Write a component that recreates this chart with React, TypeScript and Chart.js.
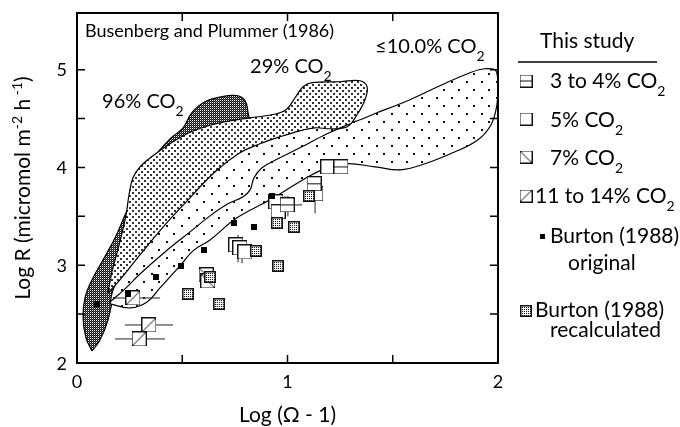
import React, { useEffect, useRef } from 'react';
import { Chart, registerables } from 'chart.js';

Chart.register(...registerables);

const FONT = 'Lato, "Noto Sans", sans-serif';

// ---------- axes ----------
const X_MIN = 0;
const X_MAX = 2;
const Y_MIN = 2;
const Y_MAX = 5.58;
const X_TICK_MARKS = [0.5, 1, 1.5];
const Y_TICK_MARKS = [2.5, 3, 3.5, 4, 4.5, 5];
const X_TICK_LABELS = [0, 1, 2];
const Y_TICK_LABELS = [2, 3, 4, 5];

// ---------- Busenberg & Plummer (1986) envelopes: [log(Ω-1), log R] ----------
const REGION_96 = [
  [0.071, 2.123], [0.043, 2.256], [0.029, 2.461], [0.038, 2.666], [0.071, 2.850],
  [0.124, 3.055], [0.181, 3.280], [0.233, 3.536], [0.285, 3.751], [0.328, 3.956],
  [0.371, 4.119], [0.442, 4.293], [0.504, 4.406], [0.546, 4.560], [0.608, 4.672],
  [0.689, 4.724], [0.760, 4.734], [0.798, 4.683], [0.812, 4.570], [0.817, 4.437],
  [0.774, 4.283], [0.656, 4.079], [0.489, 3.823], [0.347, 3.515], [0.252, 3.208],
  [0.195, 2.932], [0.176, 2.727], [0.147, 2.440], [0.109, 2.235],
];
const REGION_29 = [
  [0.147, 2.717], [0.166, 2.932], [0.200, 3.208], [0.233, 3.515], [0.247, 3.720],
  [0.266, 3.894], [0.299, 4.007], [0.361, 4.119], [0.442, 4.242], [0.523, 4.345],
  [0.608, 4.416], [0.703, 4.468], [0.822, 4.508], [0.926, 4.539], [0.993, 4.590],
  [1.036, 4.713], [1.074, 4.826], [1.116, 4.867], [1.249, 4.877], [1.344, 4.887],
  [1.378, 4.826], [1.368, 4.693], [1.330, 4.539], [1.283, 4.416], [1.202, 4.396],
  [1.131, 4.406], [1.059, 4.375], [0.964, 4.314], [0.869, 4.242], [0.774, 4.150],
  [0.656, 3.956], [0.537, 3.689], [0.418, 3.413], [0.299, 3.106], [0.204, 2.850],
];
const REGION_10 = [
  [0.157, 2.604], [0.252, 2.563], [0.333, 2.625], [0.394, 2.768], [0.489, 2.993],
  [0.551, 3.147], [0.632, 3.259], [0.760, 3.485], [0.917, 3.669], [1.074, 3.874],
  [1.164, 3.976], [1.273, 4.038], [1.416, 4.007], [1.534, 3.976], [1.653, 4.038],
  [1.796, 4.160], [1.905, 4.283], [1.967, 4.437], [1.995, 4.642], [2.000, 4.846],
  [1.990, 4.990], [1.938, 5.010], [1.867, 4.969], [1.724, 4.836], [1.582, 4.693],
  [1.425, 4.560], [1.297, 4.457], [1.202, 4.468], [1.059, 4.447], [0.917, 4.406],
  [0.774, 4.283], [0.608, 4.079], [0.442, 3.720], [0.323, 3.362], [0.228, 3.003],
  [0.171, 2.747],
];
const INNER_LINE_10 = [
  [0.157, 2.625], [0.228, 2.758], [0.299, 2.911], [0.418, 3.136], [0.537, 3.341],
  [0.632, 3.505], [0.717, 3.628], [0.789, 3.700], [0.822, 3.771], [0.841, 3.894],
  [0.879, 3.997], [0.964, 4.099], [1.059, 4.201], [1.188, 4.345], [1.297, 4.447],
];

// ---------- points ----------
const CO2_3_4 = [[1.254, 4.006], [1.126, 3.833], [0.998, 3.617]];
const CO2_5 = [[1.192, 4.006], [1.135, 3.730], [0.945, 3.648], [0.955, 3.546], [0.755, 3.208], [0.774, 3.177], [0.798, 3.136]];
const CO2_7 = [[0.613, 2.901], [0.622, 2.839]];
const CO2_11_14 = [[0.266, 2.665], [0.342, 2.389], [0.295, 2.246]];
const BURTON_ORIGINAL = [[0.095, 2.604], [0.242, 2.706], [0.375, 2.880], [0.494, 2.993], [0.603, 3.157], [0.746, 3.433], [0.841, 3.392], [0.926, 3.709]];
const BURTON_RECALC = [[1.102, 3.709], [0.950, 3.433], [1.031, 3.392], [0.850, 3.146], [0.632, 2.880], [0.527, 2.706], [0.675, 2.604], [0.955, 2.993]];

// error bars
const ERR_H = [[0.171, 0.394, 2.665], [0.228, 0.456, 2.389], [0.181, 0.418, 2.246], [0.917, 1.069, 3.617]]; // x0, x1, y
const ERR_V = [[0.765, 3.03, 3.31], [0.784, 3.02, 3.29], [0.988, 3.47, 3.71], [1.002, 3.50, 3.71], [1.131, 3.53, 3.70]]; // x, y0, y1

// ---------- text ----------
const LEGEND_TITLE = 'This study';
const LEGEND_LABELS = ['3 to 4% ', '5% ', '7% ', '11 to 14% '];
const BURTON_LABEL = 'Burton (1988)';
const BURTON_SUB = ['original', 'recalculated'];
const SOURCE_LABEL = 'Busenberg and Plummer (1986)';
const REGION_LABELS = ['96% ', '29% ', '\u226410.0% '];
const X_TITLE = 'Log (\u03A9 - 1)';

type Part = [string, number, number];

function drawParts(ctx: CanvasRenderingContext2D, parts: Part[], x: number, y: number, align: 'left' | 'center' | 'right' = 'left') {
  let w = 0;
  for (const [t, s] of parts) { ctx.font = `${s}px ${FONT}`; w += ctx.measureText(t).width; }
  let cx = align === 'center' ? x - w / 2 : align === 'right' ? x - w : x;
  ctx.textAlign = 'left';
  ctx.textBaseline = 'alphabetic';
  ctx.fillStyle = '#000';
  for (const [t, s, dy] of parts) {
    ctx.font = `${s}px ${FONT}`;
    ctx.fillText(t, cx, y + dy);
    cx += ctx.measureText(t).width;
  }
}
const co2 = (prefix: string, size: number, sub: number, dy: number): Part[] => [[prefix + 'CO', size, 0], ['2', sub, dy]];

function makeMarker(kind: string, size: number): HTMLCanvasElement {
  const c = document.createElement('canvas');
  c.width = size; c.height = size;
  const g = c.getContext('2d')!;
  if (kind === 'solid') { g.fillStyle = '#000'; g.fillRect(0, 0, size, size); return c; }
  g.fillStyle = '#fff'; g.fillRect(0, 0, size, size);
  g.strokeStyle = '#111'; g.lineWidth = 1;
  if (kind === 'dots') {
    g.fillStyle = '#000';
    for (let x = 2; x < size - 1; x += 2) for (let y = 2; y < size - 1; y += 2) g.fillRect(x, y, 1, 1);
    g.lineWidth = 1.5;
    g.strokeRect(0.75, 0.75, size - 1.5, size - 1.5);
    return c;
  }
  g.strokeRect(0.5, 0.5, size - 1, size - 1);
  g.beginPath();
  const m = Math.floor(size / 2) + 0.5;
  if (kind === 'h') { g.moveTo(0, m); g.lineTo(size, m); }
  if (kind === 'd1') { g.moveTo(0.5, 0.5); g.lineTo(size - 0.5, size - 0.5); }
  if (kind === 'd2') { g.moveTo(0.5, size - 0.5); g.lineTo(size - 0.5, 0.5); }
  g.stroke();
  return c;
}

function tile(w: number, h: number, draw: (g: CanvasRenderingContext2D) => void) {
  const c = document.createElement('canvas');
  c.width = w; c.height = h;
  draw(c.getContext('2d')!);
  return c;
}

const pts = (a: number[][]) => a.map(([x, y]) => ({ x, y }));
const ring = (a: number[][]) => pts([...a, a[0]]);

export default function App() {
  const ref = useRef<HTMLCanvasElement>(null);
  useEffect(() => {
    document.body.style.margin = '0';
    const canvas = ref.current!;
    const ctx = canvas.getContext('2d')!;

    const pat96 = ctx.createPattern(tile(2, 2, g => {
      g.fillStyle = '#111'; g.fillRect(0, 0, 2, 2);
      g.fillStyle = '#fff'; g.fillRect(0, 0, 1, 1);
      g.fillStyle = '#555'; g.fillRect(1, 1, 1, 1);
    }), 'repeat')!;
    const pat29 = ctx.createPattern(tile(6, 6, g => {
      g.fillStyle = '#fff'; g.fillRect(0, 0, 6, 6);
      g.fillStyle = '#333'; g.fillRect(0, 0, 2, 2); g.fillRect(3, 3, 2, 2);
    }), 'repeat')!;
    const pat10 = ctx.createPattern(tile(15, 16, g => {
      g.fillStyle = '#fff'; g.fillRect(0, 0, 15, 16);
      g.fillStyle = '#111'; g.fillRect(1, 1, 2, 2); g.fillRect(8, 9, 2, 2);
    }), 'repeat')!;

    const mk = {
      h: makeMarker('h', 15), sq: makeMarker('sq', 15), d1: makeMarker('d1', 15), d2: makeMarker('d2', 15),
      solid: makeMarker('solid', 6), dots: makeMarker('dots', 12),
    };
    const lg = {
      h: makeMarker('h', 13), sq: makeMarker('sq', 13), d1: makeMarker('d1', 13), d2: makeMarker('d2', 13),
      solid: makeMarker('solid', 5), dots: makeMarker('dots', 12),
    };

    const region = (data: number[][], bg: any, order: number) => ({
      data: ring(data), showLine: true, fill: 'shape', backgroundColor: bg, borderColor: '#000',
      borderWidth: 1.2, pointRadius: 0, tension: 0.4, order,
    });
    const markers = (data: number[][], style: HTMLCanvasElement, order: number) => ({
      data: pts(data), showLine: false, pointStyle: style, pointRadius: 7, order,
    });
    const seg = (a: number[][]) => ({
      data: pts(a), showLine: true, fill: false, borderColor: '#222', borderWidth: 1, pointRadius: 0, order: 6,
    });

    const datasets: any[] = [
      markers(BURTON_ORIGINAL, mk.solid, 0),
      markers(BURTON_RECALC, mk.dots, 1),
      markers(CO2_11_14, mk.d2, 2),
      markers(CO2_7, mk.d1, 3),
      markers(CO2_3_4, mk.h, 4),
      markers(CO2_5, mk.sq, 5),
      ...ERR_H.map(([x0, x1, y]) => seg([[x0, y], [x1, y]])),
      ...ERR_V.map(([x, y0, y1]) => seg([[x, y0], [x, y1]])),
      { data: pts(INNER_LINE_10), showLine: true, fill: false, borderColor: '#000', borderWidth: 1.2, pointRadius: 0, tension: 0.4, order: 7 },
      region(REGION_29, pat29, 8),
      region(REGION_10, pat10, 9),
      region(REGION_96, pat96, 10),
    ];

    const decor = {
      id: 'decor',
      afterDatasetsDraw(chart: any) {
        const c = chart.ctx as CanvasRenderingContext2D;
        const { left, right, top, bottom } = chart.chartArea;
        const xs = chart.scales.x, ys = chart.scales.y;
        c.save();
        c.strokeStyle = '#000';
        c.lineWidth = 1.5;
        c.beginPath();
        for (const v of X_TICK_MARKS) {
          const p = xs.getPixelForValue(v);
          c.moveTo(p, bottom); c.lineTo(p, bottom - 8);
          c.moveTo(p, top); c.lineTo(p, top + 8);
        }
        for (const v of Y_TICK_MARKS) {
          const p = ys.getPixelForValue(v);
          c.moveTo(left, p); c.lineTo(left + 8, p);
          c.moveTo(right, p); c.lineTo(right - 8, p);
        }
        c.stroke();
        c.lineWidth = 2;
        c.strokeRect(left, top, right - left, bottom - top);

        // tick labels
        for (const v of X_TICK_LABELS) drawParts(c, [[String(v), 18, 0]], xs.getPixelForValue(v), bottom + 25, 'center');
        for (const v of Y_TICK_LABELS) drawParts(c, [[String(v), 18, 0]], left - 10, ys.getPixelForValue(v) + 6.5, 'right');

        // labels inside the plot
        const at = (x: number, y: number) => [xs.getPixelForValue(x), ys.getPixelForValue(y)];
        let [px, py] = at(0.038, 5.338);
        drawParts(c, [[SOURCE_LABEL, 18, 0]], px, py);
        [px, py] = at(0.119, 4.611);
        drawParts(c, co2(REGION_LABELS[0], 20, 14, 8), px, py);
        [px, py] = at(0.822, 4.969);
        drawParts(c, co2(REGION_LABELS[1], 20, 14, 8), px, py);
        [px, py] = at(1.416, 5.174);
        drawParts(c, co2(REGION_LABELS[2], 20, 14, 8), px, py);
        c.restore();
      },
      afterDraw(chart: any) {
        const c = chart.ctx as CanvasRenderingContext2D;
        const { left, right } = chart.chartArea;
        c.save();
        // axis titles
        drawParts(c, [[X_TITLE, 21, 0]], (left + right) / 2, 422, 'center');
        c.translate(30, 188);
        c.rotate(-Math.PI / 2);
        drawParts(c, [['Log R (micromol m', 21, 0], ['-2', 14, -8], [' h', 21, 0], [' -1', 14, -8], [')', 21, 0]], 0, 0, 'center');
        c.setTransform(1, 0, 0, 1, 0, 0);

        // legend
        drawParts(c, [[LEGEND_TITLE, 21, 0]], 540, 48);
        c.strokeStyle = '#000'; c.lineWidth = 1.5;
        c.beginPath(); c.moveTo(518, 62); c.lineTo(657, 62); c.stroke();
        const icons = [lg.h, lg.sq, lg.d1, lg.d2];
        const iconY = [81, 119, 157, 196];
        const textY = [88, 127, 165, 203];
        const textX = [550, 550, 550, 535];
        for (let i = 0; i < 4; i++) {
          const im = icons[i];
          c.drawImage(im, 526 - im.width / 2, iconY[i] - im.height / 2);
          drawParts(c, co2(LEGEND_LABELS[i], 21, 14, 8), textX[i], textY[i]);
        }
        c.drawImage(lg.solid, 540, 234);
        drawParts(c, [[BURTON_LABEL, 21, 0]], 550, 243);
        drawParts(c, [[BURTON_SUB[0], 21, 0]], 568, 270);
        c.drawImage(lg.dots, 520, 305);
        drawParts(c, [[BURTON_LABEL, 21, 0]], 535, 317);
        drawParts(c, [[BURTON_SUB[1], 21, 0]], 550, 337);
        c.restore();
      },
    };

    const chart = new Chart(canvas, {
      type: 'scatter',
      data: { datasets },
      options: {
        animation: false,
        responsive: false,
        devicePixelRatio: 1,
        layout: { padding: { top: 13, right: 182, left: 0, bottom: 0 } },
        plugins: { legend: { display: false }, tooltip: { enabled: false } },
        scales: {
          x: {
            type: 'linear', min: X_MIN, max: X_MAX,
            grid: { display: false, drawTicks: false }, border: { display: false },
            ticks: { display: false, stepSize: 0.5 },
            afterFit: (s: any) => { s.height = 64; },
          },
          y: {
            type: 'linear', min: Y_MIN, max: Y_MAX,
            grid: { display: false, drawTicks: false }, border: { display: false },
            ticks: { display: false, stepSize: 0.5 },
            afterFit: (s: any) => { s.width = 77; },
          },
        },
      } as any,
      plugins: [decor],
    });
    return () => chart.destroy();
  }, []);
  return (
    <div style={{ width: 680, height: 427, overflow: 'hidden' }}>
      <canvas ref={ref} width={680} height={427} style={{ display: 'block' }} />
    </div>
  );
}
